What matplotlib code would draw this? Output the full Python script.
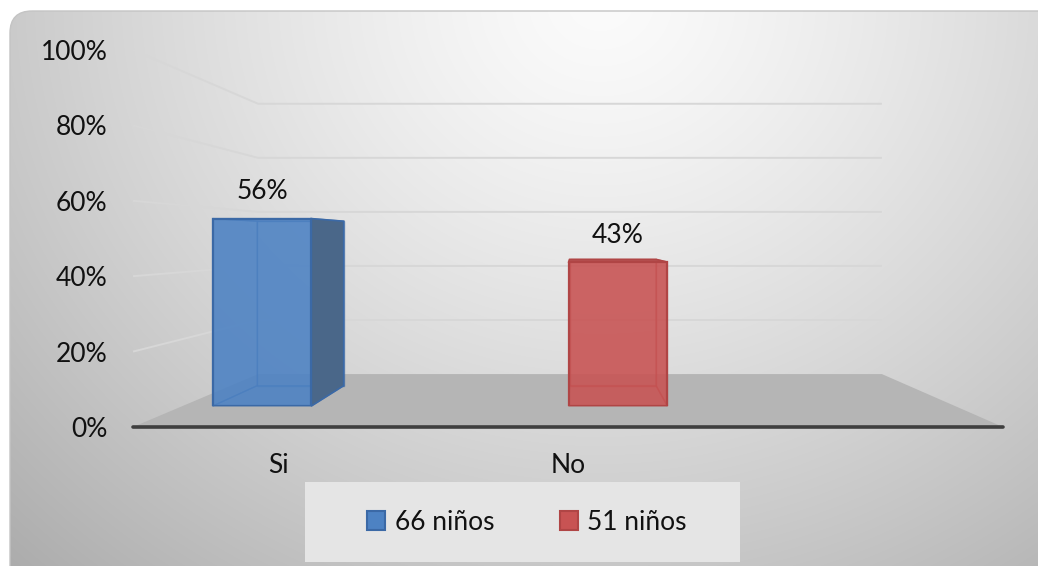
import numpy as np
import matplotlib
matplotlib.use("Agg")
import matplotlib.pyplot as plt
from matplotlib.patches import FancyBboxPatch, Polygon, Rectangle

# ---------------- data ----------------
categories = ["Si", "No", ""]
series_names = ["66 niños", "51 niños"]
series_values = [[56, None, None],
                 [None, 43, None]]
y_ticks = [0, 20, 40, 60, 80, 100]
y_tick_labels = ["0%", "20%", "40%", "60%", "80%", "100%"]

# ---------------- style ----------------
W, H = 1038, 566
FONT = ["Lato", "DejaVu Sans"]
plt.rcParams["font.family"] = FONT
FS = 19

face_cols = ["#4d82c3", "#c85353"]
edge_cols = ["#3b69a6", "#b04545"]
side_cols = ["#4a6789", "#d47474"]
top_cols = ["#5b86bd", "#b65252"]

VP = np.array([575.0, 240.0])   # perspective vanishing point (image px)
S_WALL = 0.717                  # depth scale of back wall
S_BAR_FRONT = 0.888             # depth scale of bar front faces
S_BAR_BACK = 0.877              # relative depth scale of bar back faces

fig = plt.figure(figsize=(W / 100, H / 100), dpi=100)

# pixel canvas axes
ax_px = fig.add_axes([0, 0, 1, 1], zorder=0)
ax_px.set_xlim(0, W)
ax_px.set_ylim(H, 0)
ax_px.axis("off")

# background gradient clipped to rounded box
yy, xx = np.mgrid[0:H, 0:W]
r = np.sqrt(((xx - 600) / 680.0) ** 2 + ((yy - 0) / 620.0) ** 2)
val = 0.985 - 0.23 * np.clip(r, 0, 1.3) ** 1.3
img = np.dstack([val, val, val])
box = FancyBboxPatch((10, 11), W + 20, H + 20,
                     boxstyle="round,pad=0,rounding_size=22",
                     facecolor="none", edgecolor="#c4c4c4", lw=1.0, zorder=1)
ax_px.add_patch(box)
im = ax_px.imshow(img, extent=(0, W, H, 0), zorder=0, interpolation="bilinear")
im.set_clip_path(box)

# front plane axes (tick labels)
FR_L, FR_R, FR_T, FR_B = 133, 1003, 50, 427
ax_front = fig.add_axes([FR_L / W, (H - FR_B) / H, (FR_R - FR_L) / W, (FR_B - FR_T) / H],
                        zorder=2)
ax_front.set_xlim(-0.5, len(categories) - 0.5)
ax_front.set_ylim(0, 100)
ax_front.patch.set_alpha(0)
for sp in ax_front.spines.values():
    sp.set_visible(False)
ax_front.set_yticks(y_ticks)
ax_front.set_yticklabels(y_tick_labels, fontsize=FS, color="#111111")
ax_front.set_xticks(range(len(categories)))
ax_front.set_xticklabels(categories, fontsize=FS, color="#111111")
ax_front.tick_params(axis="both", length=0)
ax_front.tick_params(axis="y", pad=18.5)
ax_front.tick_params(axis="x", pad=19)

# bar plane axes (perspective-scaled copy of the front plane)
def scale_about_vp(p, s):
    p = np.asarray(p, float)
    return VP + s * (p - VP)

bl = scale_about_vp((FR_L, FR_B), S_BAR_FRONT)
tr = scale_about_vp((FR_R, FR_T), S_BAR_FRONT)
ax_bar = fig.add_axes([bl[0] / W, (H - bl[1]) / H, (tr[0] - bl[0]) / W, (bl[1] - tr[1]) / H],
                      zorder=1)
ax_bar.set_xlim(-0.5, len(categories) - 0.5)
ax_bar.set_ylim(0, 100)
ax_bar.axis("off")


def to_img(ax, x, y):
    d = ax.transData.transform((x, y))
    return np.array([d[0], H - d[1]])


# floor and walls
FL = to_img(ax_front, -0.5, 0)
FRp = to_img(ax_front, len(categories) - 0.5, 0)
BL = scale_about_vp(FL, S_WALL)
BR = scale_about_vp(FRp, S_WALL)
ax_px.add_patch(Polygon([FL, BL, BR, FRp], closed=True, facecolor="#b5b5b5",
                        edgecolor="none", zorder=2))
grid_col = "#d7d7d7"
for t in y_ticks[1:]:
    f = to_img(ax_front, -0.5, t)
    fr = to_img(ax_front, len(categories) - 0.5, t)
    b = scale_about_vp(f, S_WALL)
    br = scale_about_vp(fr, S_WALL)
    ax_px.plot([f[0], b[0], br[0]], [f[1], b[1], br[1]], color=grid_col, lw=1.4, zorder=2,
               solid_capstyle="butt")
ax_px.plot([FL[0], FRp[0]], [FL[1], FRp[1]], color="#3f3f3f", lw=2.6, zorder=3,
           solid_capstyle="round")

# bars
nser = len(series_names)
width = 0.383
for i, (name, vals) in enumerate(zip(series_names, series_values)):
    offset = (i - (nser - 1) / 2) * width
    for j, v in enumerate(vals):
        if v is None:
            continue
        x0 = j + offset - width / 2
        x1 = j + offset + width / 2
        fbl = to_img(ax_bar, x0, 0)
        fbr = to_img(ax_bar, x1, 0)
        ftl = to_img(ax_bar, x0, v)
        ftr = to_img(ax_bar, x1, v)
        bbl, bbr, btl, btr = [scale_about_vp(p, S_BAR_BACK) for p in (fbl, fbr, ftl, ftr)]
        faces = {
            "back": [bbl, bbr, btr, btl],
            "bottom": [fbl, fbr, bbr, bbl],
            "left": [fbl, bbl, btl, ftl],
            "right": [fbr, bbr, btr, ftr],
            "top": [ftl, ftr, btr, btl],
        }
        visible = {
            "back": False,
            "bottom": bbl[1] > fbl[1],
            "left": bbl[0] < fbl[0],
            "right": bbr[0] > fbr[0],
            "top": btl[1] < ftl[1],
        }
        for k in ["back", "bottom", "left", "right", "top"]:
            if not visible[k]:
                ax_bar.add_patch(Polygon(faces[k], closed=True, transform=ax_px.transData,
                                         facecolor=face_cols[i], alpha=0.25,
                                         edgecolor="none", zorder=1, clip_on=False))
                ax_bar.add_patch(Polygon(faces[k], closed=True, transform=ax_px.transData,
                                         facecolor="none", edgecolor=edge_cols[i], lw=1.0,
                                         alpha=0.6, zorder=1.5, clip_on=False))
        for k in ["bottom", "left", "right", "top"]:
            if visible[k]:
                col = top_cols[i] if k in ("top", "bottom") else side_cols[i]
                ax_bar.add_patch(Polygon(faces[k], closed=True, transform=ax_px.transData,
                                         facecolor=col, edgecolor=edge_cols[i], lw=1.2,
                                         zorder=2, clip_on=False, joinstyle="miter"))
        ax_bar.bar(j + offset, v, width=width, color=face_cols[i], alpha=0.85,
                   edgecolor="none", zorder=3)
        ax_bar.add_patch(Rectangle((x0, 0), width, v, facecolor="none",
                                   edgecolor=edge_cols[i], lw=1.6, zorder=3.5))
        ax_bar.annotate(f"{v}%", (j + offset, v), xytext=(0, 14), textcoords="offset points",
                        ha="center", va="baseline", fontsize=FS, color="#111111")

# legend box
ax_px.add_patch(Rectangle((305, 482), 435, 80, facecolor="#e5e5e5", edgecolor="none", zorder=2))
handles = [Rectangle((0, 0), 1, 1, facecolor=face_cols[i], edgecolor=edge_cols[i], lw=1.5)
           for i in range(nser)]
fig.legend(handles, series_names, loc="center", bbox_to_anchor=(527 / W, (H - 522) / H),
           ncol=2, frameon=False, fontsize=FS, handlelength=0.68, handleheight=0.75,
           handletextpad=0.35, columnspacing=2.5, labelcolor="#111111")

fig.savefig("out.png", dpi=100)
